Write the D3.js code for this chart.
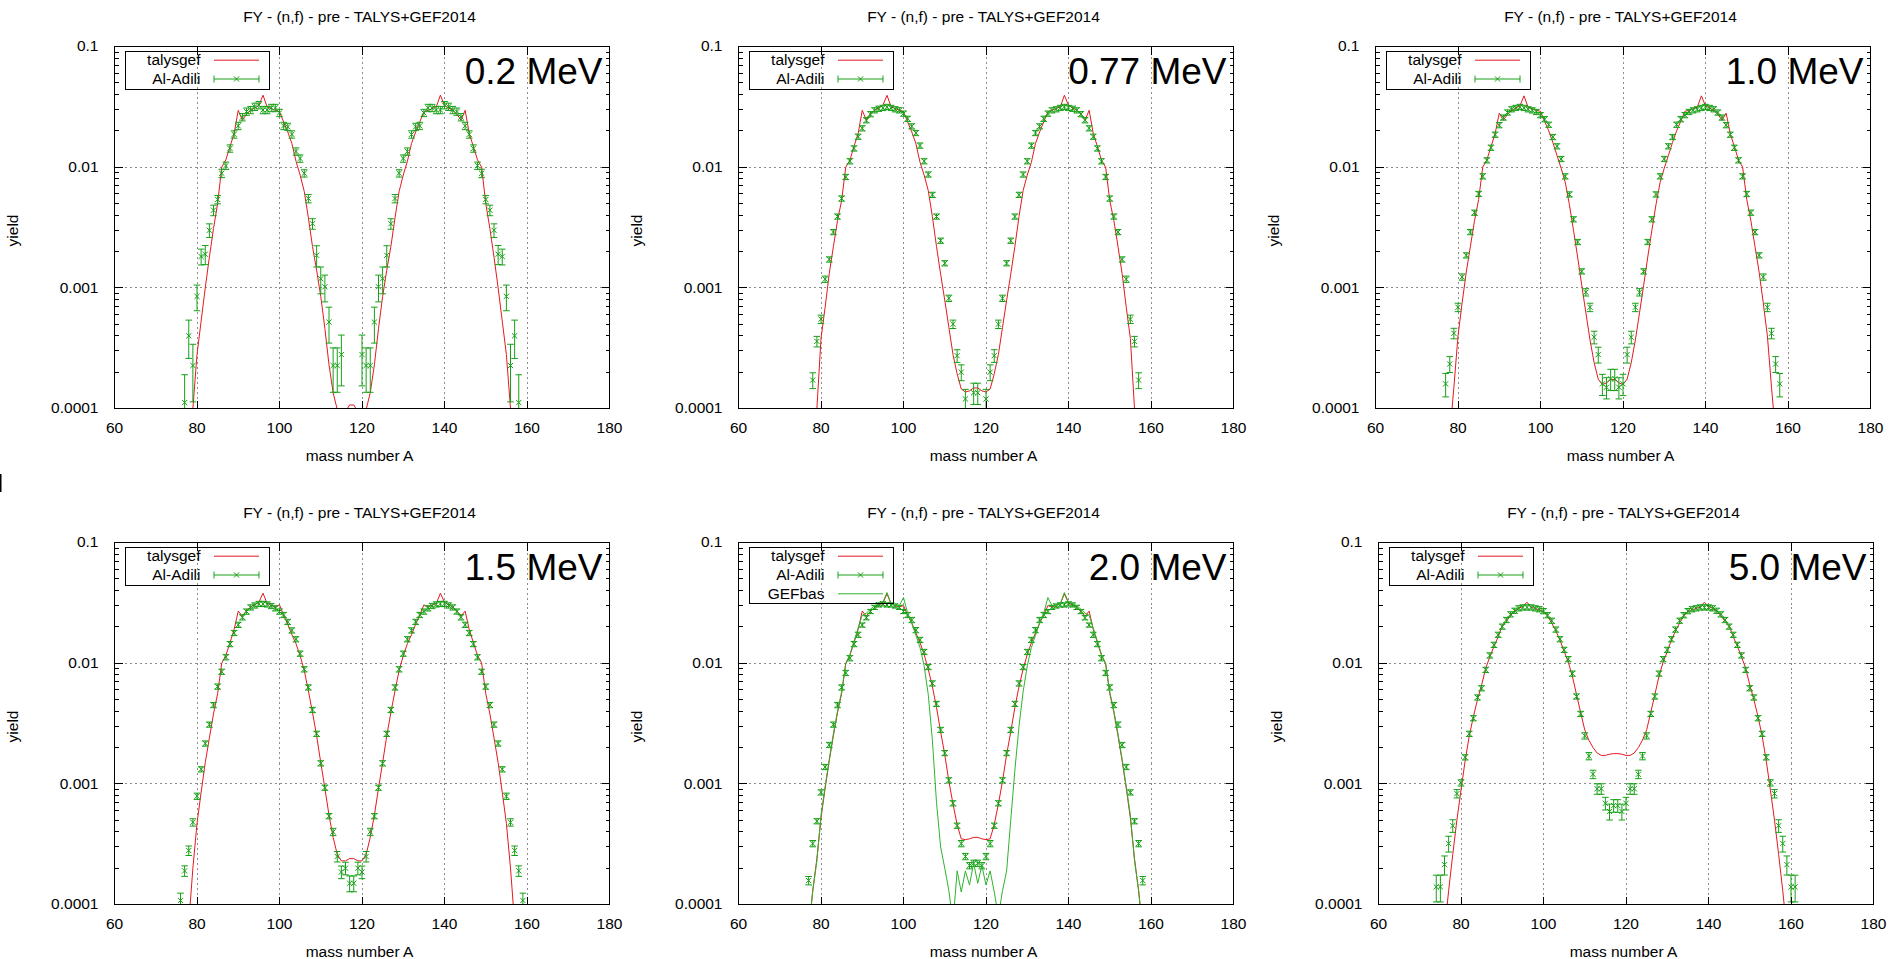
<!DOCTYPE html>
<html>
<head>
<meta charset="utf-8">
<script src="https://cdn.jsdelivr.net/npm/d3@7"></script>
<style>
body { margin: 0; background: #fff; }
</style>
</head>
<body>
<svg id="chart" width="1895" height="959"></svg>
<script>
// mass number A for every series below (74 .. 161)
var massA = [74,75,76,77,78,79,80,81,82,83,84,85,86,87,88,89,90,91,92,93,94,95,96,97,98,99,100,
	101,102,103,104,105,106,107,108,109,110,111,112,113,114,115,116,117,118,119,120,121,122,123,124,125,
	126,127,128,129,130,131,132,133,134,135,136,137,138,139,140,141,142,143,144,145,146,147,148,149,150,
	151,152,153,154,155,156,157,158,159,160,161];

var energies = ["0.2 MeV", "0.77 MeV", "1.0 MeV", "1.5 MeV", "2.0 MeV", "5.0 MeV"];
var xTicks = [60, 80, 100, 120, 140, 160, 180];
var xGrid = [80, 100, 120, 140, 160];
var yTicks = [0.0001, 0.001, 0.01, 0.1];
var yTickLabels = ["0.0001", "0.001", "0.01", "0.1"];
var yGrid = [0.001, 0.01];
var yMinor = [2e-4,3e-4,4e-4,5e-4,6e-4,7e-4,8e-4,9e-4,2e-3,3e-3,4e-3,5e-3,6e-3,7e-3,8e-3,9e-3,
	0.02,0.03,0.04,0.05,0.06,0.07,0.08,0.09];

// talysgef curves
var talys02 = [null,null,null,null,
	4e-5,1.0e-4,2.8e-4,5.3e-4,1.0e-3,1.8e-3,3.1e-3,5.0e-3,0.0100,0.0115,0.0148,0.019,0.0296,0.0245,0.0275,0.0295,0.031,0.0325,0.0395,0.0316,0.0306,0.0296,0.0287,0.0237,0.0196,0.0157,0.0112,0.0086,0.0063,0.0038,0.0022,0.0014,8.5e-4,4.6e-4,2.3e-4,1.35e-4,9.8e-5,9.0e-5,9.4e-5,1.07e-4,
	1.07e-4,9.4e-5,9.0e-5,9.8e-5,1.35e-4,2.3e-4,4.6e-4,8.5e-4,0.0014,0.0022,0.0038,0.0063,0.0086,0.0112,0.0157,0.0196,0.0237,0.0287,0.0296,0.0306,0.0316,0.0395,0.0325,0.031,0.0295,0.0275,0.0245,0.0296,0.019,0.0148,0.0115,0.0100,5.0e-3,3.1e-3,1.8e-3,1.0e-3,5.3e-4,2.8e-4,1.0e-4,4e-5,
	null,null,null,null];
var talys077 = [null,null,null,null,
	2e-5,1.0e-4,3.8e-4,6.9e-4,1.31e-3,2.2e-3,3.6e-3,5.3e-3,0.0100,0.0114,0.0149,0.019,0.0296,0.0245,0.0278,0.0296,0.031,0.0326,0.0394,0.0316,0.0306,0.0296,0.0287,0.0237,0.0196,0.0157,0.011,8.6e-3,6.4e-3,3.9e-3,2.2e-3,1.3e-3,7.9e-4,4.7e-4,2.8e-4,1.94e-4,1.45e-4,1.37e-4,1.4e-4,1.48e-4,
	1.48e-4,1.4e-4,1.37e-4,1.45e-4,1.94e-4,2.8e-4,4.7e-4,7.9e-4,1.3e-3,2.2e-3,3.9e-3,6.4e-3,8.6e-3,0.011,0.0157,0.0196,0.0237,0.0287,0.0296,0.0306,0.0316,0.0394,0.0326,0.031,0.0296,0.0278,0.0245,0.0296,0.019,0.0149,0.0114,0.0100,5.3e-3,3.6e-3,2.2e-3,1.31e-3,6.9e-4,3.8e-4,1.0e-4,2e-5,
	null,null,null,null];
var talys10 = [null,null,null,null,
	6e-5,1.5e-4,4.0e-4,7.5e-4,1.35e-3,2.2e-3,3.6e-3,5.4e-3,0.0100,0.0115,0.0148,0.019,0.028,0.0245,0.0275,0.0295,0.031,0.0322,0.039,0.0314,0.0304,0.0296,0.029,0.024,0.020,0.016,0.0125,0.0098,7.5e-3,4.9e-3,3.0e-3,1.8e-3,1.05e-3,6.2e-4,3.7e-4,2.4e-4,1.75e-4,1.58e-4,1.63e-4,1.74e-4,
	1.74e-4,1.63e-4,1.58e-4,1.75e-4,2.4e-4,3.7e-4,6.2e-4,1.05e-3,1.8e-3,3.0e-3,4.9e-3,7.5e-3,0.0098,0.0125,0.016,0.020,0.024,0.029,0.0296,0.0304,0.0314,0.039,0.0322,0.031,0.0295,0.0275,0.0245,0.028,0.019,0.0148,0.0115,0.0100,5.4e-3,3.6e-3,2.2e-3,1.35e-3,7.5e-4,4.0e-4,1.5e-4,6e-5,
	null,null,null,null];
var talys15 = [null,null,null,null,
	7e-5,2.0e-4,4.7e-4,8.5e-4,1.5e-3,2.4e-3,3.8e-3,5.6e-3,0.0100,0.0116,0.0148,0.019,0.027,0.0245,0.0272,0.0292,0.0305,0.032,0.038,0.0312,0.0302,0.0294,0.0304,0.025,0.021,0.0172,0.0145,0.0115,8.7e-3,5.9e-3,3.9e-3,2.5e-3,1.5e-3,9.2e-4,5.5e-4,3.6e-4,2.6e-4,2.3e-4,2.3e-4,2.4e-4,
	2.4e-4,2.3e-4,2.3e-4,2.6e-4,3.6e-4,5.5e-4,9.2e-4,1.5e-3,2.5e-3,3.9e-3,5.9e-3,8.7e-3,0.0115,0.0145,0.0172,0.021,0.025,0.0304,0.0294,0.0302,0.0312,0.038,0.032,0.0305,0.0292,0.0272,0.0245,0.027,0.019,0.0148,0.0116,0.0100,5.6e-3,3.8e-3,2.4e-3,1.5e-3,8.5e-4,4.7e-4,2.0e-4,7e-5,
	null,null,null,null];
var talys20 = [null,null,null,
	6e-5,1.3e-4,2.4e-4,5.2e-4,9.2e-4,1.55e-3,2.5e-3,3.9e-3,5.6e-3,0.0100,0.0116,0.0148,0.019,0.027,0.0245,0.027,0.029,0.0303,0.0315,0.0375,0.031,0.030,0.0292,0.030,0.025,0.0215,0.0178,0.0148,0.0118,8.9e-3,6.4e-3,4.3e-3,2.7e-3,1.75e-3,1.05e-3,6.8e-4,4.6e-4,3.5e-4,3.45e-4,3.5e-4,3.6e-4,
	3.6e-4,3.5e-4,3.45e-4,3.5e-4,4.6e-4,6.8e-4,1.05e-3,1.75e-3,2.7e-3,4.3e-3,6.4e-3,8.9e-3,0.0118,0.0148,0.0178,0.0215,0.025,0.030,0.0292,0.030,0.031,0.0375,0.0315,0.0303,0.029,0.027,0.0245,0.027,0.019,0.0148,0.0116,0.0100,5.6e-3,3.9e-3,2.5e-3,1.55e-3,9.2e-4,5.2e-4,2.4e-4,1.3e-4,6e-5,
	null,null,null];
var talys50 = [null,null,
	6e-5,1.3e-4,2.6e-4,5.0e-4,8.9e-4,1.55e-3,2.5e-3,3.6e-3,5.0e-3,6.6e-3,9.1e-3,0.0113,0.0138,0.0165,0.0205,0.0222,0.0248,0.027,0.0285,0.0295,0.032,0.029,0.0285,0.0276,0.0268,0.0245,0.0215,0.0185,0.0155,0.0125,0.0102,7.8e-3,5.5e-3,3.9e-3,2.8e-3,2.3e-3,2.0e-3,1.8e-3,1.72e-3,1.72e-3,1.76e-3,1.78e-3,
	1.78e-3,1.76e-3,1.72e-3,1.72e-3,1.8e-3,2.0e-3,2.3e-3,2.8e-3,3.9e-3,5.5e-3,7.8e-3,0.0102,0.0125,0.0155,0.0185,0.0215,0.0245,0.0268,0.0276,0.0285,0.029,0.032,0.0295,0.0285,0.027,0.0248,0.0222,0.0205,0.0165,0.0138,0.0113,9.1e-3,6.6e-3,5.0e-3,3.6e-3,2.5e-3,1.55e-3,8.9e-4,5.0e-4,2.6e-4,1.3e-4,6e-5,
	null,null];

// GEFbas curve (2.0 MeV only)
var gefbas20 = [null,null,null,
	6e-5,1.3e-4,2.3e-4,5.5e-4,9.5e-4,1.6e-3,2.6e-3,4.0e-3,5.8e-3,9.8e-3,0.0118,0.0152,0.0195,0.025,0.026,0.028,0.030,0.031,0.032,0.0385,0.031,0.030,0.030,0.035,0.026,0.0215,0.017,0.0135,0.0095,5.5e-3,2.3e-3,7.0e-4,3.0e-4,2.0e-4,1.3e-4,7e-5,1.9e-4,1.27e-4,1.9e-4,1.45e-4,2.2e-4,
	1.5e-4,2.1e-4,1.45e-4,1.9e-4,1.27e-4,8e-5,1.3e-4,1.9e-4,5.0e-4,1.3e-3,3.0e-3,5.8e-3,9.5e-3,0.0135,0.017,0.0215,0.026,0.035,0.030,0.030,0.031,0.0385,0.032,0.031,0.030,0.028,0.026,0.025,0.0195,0.0152,0.0118,9.8e-3,5.8e-3,4.0e-3,2.6e-3,1.6e-3,9.5e-4,5.5e-4,2.3e-4,1.3e-4,6e-5,
	null,null,null];

// Al-Adili yields and their errors (percent)
var adili02 = [null,null,null,1.12e-4,4.0e-4,2.27e-4,8.5e-4,1.82e-3,1.9e-3,3.0e-3,4.4e-3,5.4e-3,8.9e-3,0.0103,0.0143,0.0187,0.022,0.026,0.0289,0.0298,0.0317,0.0327,0.0298,0.0298,0.031,0.031,0.0282,0.022,0.0216,0.0187,0.0135,0.0118,8.9e-3,5.5e-3,3.4e-3,1.86e-3,1.19e-3,1.02e-3,5.2e-4,2.27e-4,2.27e-4,2.8e-4,null,null,
	null,null,2.8e-4,2.27e-4,2.27e-4,5.2e-4,1.02e-3,1.19e-3,1.86e-3,3.4e-3,5.5e-3,8.9e-3,0.0118,0.0135,0.0187,0.0216,0.022,0.0282,0.031,0.031,0.0298,0.0298,0.0327,0.0317,0.0298,0.0289,0.026,0.022,0.0187,0.0143,0.0103,8.9e-3,5.4e-3,4.4e-3,3.0e-3,1.9e-3,1.82e-3,8.5e-4,2.27e-4,4.0e-4,1.12e-4,null,null,null];
var err02 = [null,null,null,70,35,50,24,15,18,13,10,8,8,7,7,7,7,7,7,7,7,7,7,7,7,7,7,7,7,7,7,7,7,8,10,20,25,25,33,40,40,45,null,null,
	null,null,45,40,40,33,25,25,20,10,8,7,7,7,7,7,7,7,7,7,7,7,7,7,7,7,7,7,7,7,7,8,8,10,13,18,15,24,50,35,70,null,null,null];
var adili077 = [null,null,null,null,1.72e-4,3.6e-4,5.5e-4,1.18e-3,1.72e-3,2.9e-3,3.9e-3,5.5e-3,8.3e-3,0.0112,0.0143,0.0179,0.021,0.0245,0.0275,0.0296,0.0305,0.031,0.0316,0.031,0.0302,0.0296,0.0278,0.0252,0.0218,0.0192,0.0151,0.0112,8.7e-3,5.9e-3,3.9e-3,2.46e-3,1.6e-3,8.2e-4,5.0e-4,2.74e-4,2.0e-4,1.2e-4,null,1.35e-4,
	1.35e-4,null,1.2e-4,2.0e-4,2.74e-4,5.0e-4,8.2e-4,1.6e-3,2.46e-3,3.9e-3,5.9e-3,8.7e-3,0.0112,0.0151,0.0192,0.0218,0.0252,0.0278,0.0296,0.0302,0.031,0.0316,0.031,0.0305,0.0296,0.0275,0.0245,0.021,0.0179,0.0143,0.0112,8.3e-3,5.5e-3,3.9e-3,2.9e-3,1.72e-3,1.18e-3,5.5e-4,3.6e-4,1.72e-4,null,null,null,null];
var err077 = [null,null,null,null,15,10,8,6,5,5,5,5,5,5,5,5,5,5,5,5,5,5,5,5,5,5,5,5,5,5,5,5,5,5,5,5,5,6,8,12,15,20,null,20,
	20,null,20,15,12,8,6,5,5,5,5,5,5,5,5,5,5,5,5,5,5,5,5,5,5,5,5,5,5,5,5,5,5,5,5,5,6,8,10,15,null,null,null,null];
var adili10 = [null,null,null,1.6e-4,2.34e-4,4.2e-4,6.9e-4,1.23e-3,1.86e-3,2.9e-3,4.2e-3,6.0e-3,8.4e-3,0.0114,0.0145,0.0186,0.0223,0.0258,0.0284,0.0302,0.031,0.0316,0.031,0.0302,0.0296,0.0287,0.027,0.025,0.0225,0.0178,0.0149,0.0117,8.4e-3,5.95e-3,3.7e-3,2.4e-3,1.37e-3,9.2e-4,6.9e-4,3.9e-4,2.8e-4,1.6e-4,1.5e-4,1.76e-4,
	1.76e-4,1.5e-4,1.6e-4,2.8e-4,3.9e-4,6.9e-4,9.2e-4,1.37e-3,2.4e-3,3.7e-3,5.95e-3,8.4e-3,0.0117,0.0149,0.0178,0.0225,0.025,0.027,0.0287,0.0296,0.0302,0.031,0.0316,0.031,0.0302,0.0284,0.0258,0.0223,0.0186,0.0145,0.0114,8.4e-3,6.0e-3,4.2e-3,2.9e-3,1.86e-3,1.23e-3,6.9e-4,4.2e-4,2.34e-4,1.6e-4,null,null,null];
var err10 = [null,null,null,22,15,10,8,6,5,5,5,5,5,5,5,5,5,5,5,5,5,5,5,5,5,5,5,5,5,5,5,5,5,5,5,5,5,7,8,12,15,20,20,20,
	20,20,20,15,12,8,7,5,5,5,5,5,5,5,5,5,5,5,5,5,5,5,5,5,5,5,5,5,5,5,5,5,5,5,5,5,6,8,10,15,22,null,null,null];
var adili15 = [null,null,1.08e-4,1.9e-4,2.8e-4,4.8e-4,7.9e-4,1.32e-3,2.16e-3,3.1e-3,4.5e-3,6.4e-3,8.5e-3,0.0112,0.0144,0.0178,0.0208,0.024,0.0268,0.029,0.0301,0.031,0.031,0.0307,0.0298,0.0285,0.0268,0.0251,0.022,0.0187,0.0158,0.012,8.9e-3,6.3e-3,4.1e-3,2.6e-3,1.48e-3,9.3e-4,5.4e-4,4.0e-4,2.5e-4,1.86e-4,2.0e-4,1.5e-4,
	1.5e-4,2.0e-4,1.86e-4,2.5e-4,4.0e-4,5.4e-4,9.3e-4,1.48e-3,2.6e-3,4.1e-3,6.3e-3,8.9e-3,0.012,0.0158,0.0187,0.022,0.0251,0.0268,0.0285,0.0298,0.0307,0.031,0.031,0.0301,0.029,0.0268,0.024,0.0208,0.0178,0.0144,0.0112,8.5e-3,6.4e-3,4.5e-3,3.1e-3,2.16e-3,1.32e-3,7.9e-4,4.8e-4,2.8e-4,1.9e-4,1.08e-4,null,null];
var err15 = [null,null,15,10,9,7,6,5,5,5,5,5,5,5,5,5,5,5,5,5,5,5,5,5,5,5,5,5,5,5,5,5,5,5,5,5,5,5,5,7,10,12,12,15,
	15,12,12,10,7,5,5,5,5,5,5,5,5,5,5,5,5,5,5,5,5,5,5,5,5,5,5,5,5,5,5,5,5,5,5,5,5,6,7,9,10,15,null,null];
var adili20 = [null,null,null,1.58e-4,3.2e-4,4.9e-4,8.5e-4,1.38e-3,2.1e-3,3.1e-3,4.5e-3,6.3e-3,8.3e-3,0.011,0.0144,0.0172,0.0207,0.0238,0.0268,0.029,0.0304,0.031,0.0304,0.0304,0.0298,0.029,0.0268,0.0251,0.0228,0.0188,0.0156,0.0124,9.3e-3,6.8e-3,4.6e-3,2.8e-3,1.8e-3,1.07e-3,6.9e-4,4.5e-4,3.2e-4,2.5e-4,2.1e-4,2.2e-4,
	2.2e-4,2.1e-4,2.5e-4,3.2e-4,4.5e-4,6.9e-4,1.07e-3,1.8e-3,2.8e-3,4.6e-3,6.8e-3,9.3e-3,0.0124,0.0156,0.0188,0.0228,0.0251,0.0268,0.029,0.0298,0.0304,0.0304,0.031,0.0304,0.029,0.0268,0.0238,0.0207,0.0172,0.0144,0.011,8.3e-3,6.3e-3,4.5e-3,3.1e-3,2.1e-3,1.38e-3,8.5e-4,4.9e-4,3.2e-4,1.58e-4,null,null,null];
var err20 = [null,null,null,8,6,5,5,5,5,5,5,5,5,5,5,5,4,4,4,4,4,4,4,4,4,4,4,5,5,5,5,5,5,5,5,5,5,5,5,5,6,6,6,6,
	6,6,6,6,5,5,5,5,5,5,5,5,5,5,5,5,5,4,4,4,4,4,4,4,4,4,4,4,5,5,5,5,5,5,5,5,5,5,5,6,8,null,null,null];
var adili50 = [1.4e-4,1.4e-4,2.14e-4,3.2e-4,4.5e-4,8.3e-4,1.02e-3,1.66e-3,2.6e-3,3.5e-3,5.2e-3,6.2e-3,8.8e-3,0.0116,0.0142,0.0172,0.0201,0.0228,0.0254,0.0272,0.0285,0.029,0.029,0.029,0.0285,0.028,0.027,0.025,0.0225,0.019,0.0158,0.0129,0.0108,8.2e-3,5.3e-3,3.8e-3,2.5e-3,1.7e-3,1.2e-3,9.1e-4,9.1e-4,6.9e-4,5.9e-4,6.6e-4,
	6.6e-4,5.9e-4,6.9e-4,9.1e-4,9.1e-4,1.2e-3,1.7e-3,2.5e-3,3.8e-3,5.3e-3,8.2e-3,0.0108,0.0129,0.0158,0.019,0.0225,0.025,0.027,0.028,0.0285,0.029,0.029,0.029,0.0285,0.0272,0.0254,0.0228,0.0201,0.0172,0.0142,0.0116,8.8e-3,6.2e-3,5.2e-3,3.5e-3,2.6e-3,1.66e-3,1.02e-3,8.3e-4,4.5e-4,3.2e-4,2.14e-4,1.4e-4,1.4e-4];
var err50 = [25,25,18,15,12,8,6,5,5,5,5,5,5,5,5,5,5,5,5,5,5,5,5,5,5,5,5,5,5,5,5,5,5,5,5,5,6,7,8,10,10,12,15,12,
	12,15,12,10,10,8,7,6,5,5,5,5,5,5,5,5,5,5,5,5,5,5,5,5,5,5,5,5,5,5,5,5,5,5,5,5,5,6,8,12,15,18,25,25];

var FONT = "'Liberation Sans', Arial, Helvetica, sans-serif";
var RED = "#e3191f", GREEN = "#16a016", GEF_GREEN = "#2cb52c";
var W = 495, H = 362;
var title = "FY - (n,f) - pre - TALYS+GEF2014";

var panels = [
	{ e: energies[0], talys: talys02,  exp: adili02,  err: err02,  left: 114.5,  top: 46.5 },
	{ e: energies[1], talys: talys077, exp: adili077, err: err077, left: 738.5,  top: 46.5 },
	{ e: energies[2], talys: talys10,  exp: adili10,  err: err10,  left: 1375.5, top: 46.5 },
	{ e: energies[3], talys: talys15,  exp: adili15,  err: err15,  left: 114.5,  top: 542.5 },
	{ e: energies[4], talys: talys20,  exp: adili20,  err: err20,  gef: gefbas20, left: 738.5, top: 542.5 },
	{ e: energies[5], talys: talys50,  exp: adili50,  err: err50,  left: 1378.5, top: 542.5 }
];

var svg = d3.select("#chart");
var defs = svg.append("defs");

var x = d3.scaleLinear().domain([60, 180]).range([0, W]);
var y = d3.scaleLog().domain([1e-4, 0.1]).range([H, 0]);
var noLabel = function() { return ""; };

var line = d3.line()
	.defined(function(d) { return d[1] != null; })
	.x(function(d) { return x(d[0]); })
	.y(function(d) { return y(d[1]); });

function tidy(a) {
	a.select(".domain").remove();
	a.attr("font-family", FONT).attr("font-size", 15.5);
	a.selectAll("line").attr("stroke", "#000").attr("shape-rendering", "crispEdges");
	a.selectAll("text").attr("fill", "#000");
}

// one 'x' point with its error bar
function errPath(px, py, yLo, yHi) {
	var c = 3.3, m = 2.6;
	return "M" + px + "," + yHi + "V" + yLo +
		"M" + (px - c) + "," + yHi + "H" + (px + c) +
		"M" + (px - c) + "," + yLo + "H" + (px + c) +
		"M" + (px - m) + "," + (py - m) + "L" + (px + m) + "," + (py + m) +
		"M" + (px - m) + "," + (py + m) + "L" + (px + m) + "," + (py - m);
}

panels.forEach(function(p, i) {
	var g = svg.append("g").attr("transform", "translate(" + p.left + "," + p.top + ")");

	defs.append("clipPath").attr("id", "clip" + i)
		.append("rect").attr("width", W).attr("height", H);

	// texts
	g.append("text")
		.attr("x", W / 2 - 2.5).attr("y", -24.5)
		.attr("text-anchor", "middle")
		.attr("font-family", FONT).attr("font-size", 15.5)
		.text(title);
	g.append("text")
		.attr("x", W / 2 - 2.5).attr("y", H + 52)
		.attr("text-anchor", "middle")
		.attr("font-family", FONT).attr("font-size", 15.5)
		.text("mass number A");
	g.append("text")
		.attr("transform", "translate(-97," + (H / 2 + 3) + ") rotate(-90)")
		.attr("text-anchor", "middle")
		.attr("font-family", FONT).attr("font-size", 15.5)
		.text("yield");

	// grid
	var grid = g.append("g")
		.attr("stroke", "#8c8c8c").attr("stroke-dasharray", "2,3")
		.attr("shape-rendering", "crispEdges");
	grid.selectAll(".gx").data(xGrid).enter().append("line")
		.attr("x1", function(d) { return x(d); }).attr("x2", function(d) { return x(d); })
		.attr("y1", 0).attr("y2", H);
	grid.selectAll(".gy").data(yGrid).enter().append("line")
		.attr("x1", 0).attr("x2", W)
		.attr("y1", function(d) { return y(d); }).attr("y2", function(d) { return y(d); });

	// data
	var plot = g.append("g").attr("clip-path", "url(#clip" + i + ")");
	plot.append("path")
		.datum(d3.zip(massA, p.talys))
		.attr("d", line)
		.attr("fill", "none").attr("stroke", RED).attr("stroke-width", 1);

	var pts = massA.map(function(a, k) { return { a: a, v: p.exp[k], e: p.err[k] }; })
		.filter(function(d) { return d.v != null; });
	plot.append("g").selectAll("path")
		.data(pts)
		.enter().append("path")
		.attr("d", function(d) {
			var f = d.e / 100;
			return errPath(x(d.a), y(d.v), y(Math.max(d.v * (1 - f), 1e-6)), y(d.v * (1 + f)));
		})
		.attr("fill", "none").attr("stroke", GREEN).attr("stroke-width", 1);

	if (p.gef) {
		plot.append("path")
			.datum(d3.zip(massA, p.gef))
			.attr("d", line)
			.attr("fill", "none").attr("stroke", GEF_GREEN).attr("stroke-width", 1);
	}

	// axes, ticks inside on all four sides
	var bottom = g.append("g").attr("transform", "translate(0," + H + ")")
		.call(d3.axisBottom(x).tickValues(xTicks).tickSize(-8).tickSizeOuter(0).tickPadding(13.5).offset(0));
	var topAx = g.append("g")
		.call(d3.axisTop(x).tickValues(xTicks).tickSize(-8).tickSizeOuter(0).tickFormat(noLabel).offset(0));
	var left = g.append("g")
		.call(d3.axisLeft(y).tickValues(yTicks).tickSize(-8).tickSizeOuter(0).tickPadding(16)
			.tickFormat(function(d, k) { return yTickLabels[k]; }).offset(0));
	var leftMinor = g.append("g")
		.call(d3.axisLeft(y).tickValues(yMinor).tickSize(-4).tickSizeOuter(0).tickFormat(noLabel).offset(0));
	var right = g.append("g").attr("transform", "translate(" + W + ",0)")
		.call(d3.axisRight(y).tickValues(yTicks).tickSize(-8).tickSizeOuter(0).tickFormat(noLabel).offset(0));
	var rightMinor = g.append("g").attr("transform", "translate(" + W + ",0)")
		.call(d3.axisRight(y).tickValues(yMinor).tickSize(-4).tickSizeOuter(0).tickFormat(noLabel).offset(0));
	[bottom, topAx, left, leftMinor, right, rightMinor].forEach(tidy);

	g.append("rect")
		.attr("width", W).attr("height", H)
		.attr("fill", "none").attr("stroke", "#000")
		.attr("shape-rendering", "crispEdges");

	// energy label
	g.append("text")
		.attr("x", W - 7).attr("y", 37)
		.attr("text-anchor", "end")
		.attr("font-family", FONT).attr("font-size", 37)
		.text(p.e);

	// key
	var names = ["talysgef", "Al-Adili"];
	if (p.gef) names.push("GEFbas");
	var key = g.append("g").attr("transform", "translate(10.5,4.5)");
	key.append("rect")
		.attr("width", 144).attr("height", names.length * 18.8 + 0.5)
		.attr("fill", "none").attr("stroke", "#000")
		.attr("shape-rendering", "crispEdges");
	names.forEach(function(name, k) {
		var ly = 9.2 + k * 18.8;
		key.append("text")
			.attr("x", 75.5).attr("y", 13.9 + k * 18.8)
			.attr("text-anchor", "end")
			.attr("font-family", FONT).attr("font-size", 15.5)
			.text(name);
		if (name === "Al-Adili") {
			key.append("path")
				.attr("d", "M89," + ly + "H134M89," + (ly - 3.5) + "V" + (ly + 3.5) +
					"M134," + (ly - 3.5) + "V" + (ly + 3.5) +
					"M" + 108.9 + "," + (ly - 2.6) + "L" + 114.1 + "," + (ly + 2.6) +
					"M" + 108.9 + "," + (ly + 2.6) + "L" + 114.1 + "," + (ly - 2.6))
				.attr("fill", "none").attr("stroke", GREEN);
		} else {
			key.append("line")
				.attr("x1", 89).attr("x2", 134).attr("y1", ly).attr("y2", ly)
				.attr("stroke", name === "talysgef" ? RED : GEF_GREEN);
		}
	});
});

// stray mark at the left edge of the original picture
svg.append("line")
	.attr("x1", 0.75).attr("x2", 0.75).attr("y1", 474).attr("y2", 492)
	.attr("stroke", "#000").attr("stroke-width", 1.5);
</script>
</body>
</html>
